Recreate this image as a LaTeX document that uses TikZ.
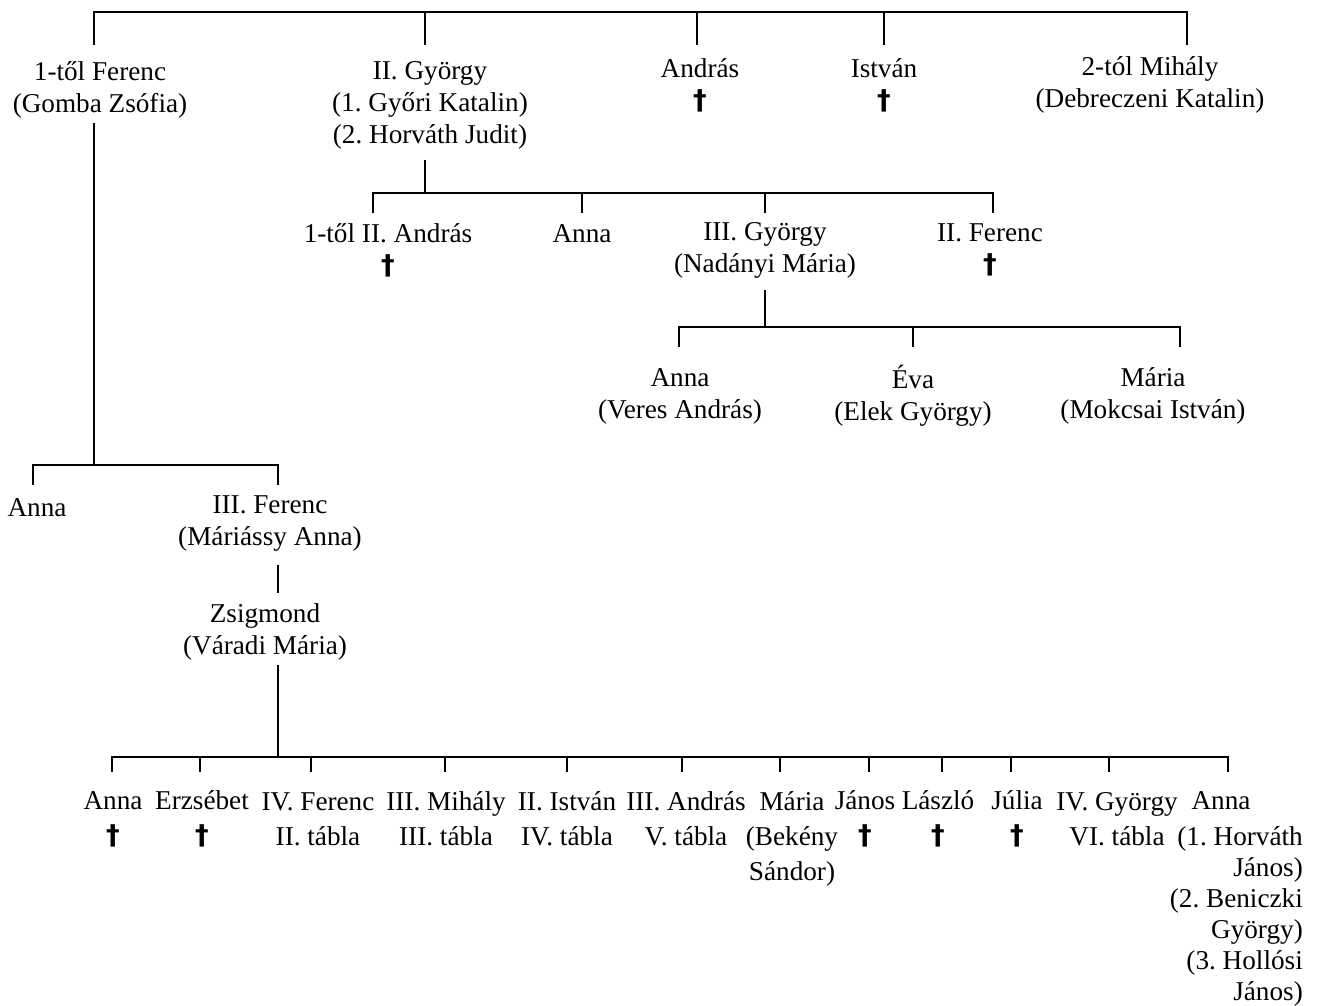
\documentclass[tikz,border=0pt]{standalone}
\usepackage{fontspec}
\setmainfont{Liberation Serif}
\newfontfamily\dagfont{DejaVu Sans Bold}
\newcommand{\dg}{{\dagfont †}}
\begin{document}
\frenchspacing
\begin{tikzpicture}[x=1pt,y=-1pt,
  every node/.style={inner sep=0pt, align=center, font=\fontsize{27.2}{32}\selectfont},
  botrow/.style={font=\fontsize{27.2}{35}\selectfont},
  spouses/.style={font=\fontsize{27.2}{31}\selectfont, anchor=north east, align=right},
  ln/.style={line width=1.8pt}]
\useasboundingbox (0,0) rectangle (1320,1005);

% ---- generation 1
\node (ferenc) at (100,90) {1-től Ferenc\\(Gomba Zsófia)};
\node (gyorgy) at (430,105) {II. György\\(1. Győri Katalin)\\(2. Horváth Judit)};
\node (andras) at (700,85) {András\\\dg};
\node (istvan) at (884,85) {István\\\dg};
\node (mihaly) at (1150,85) {2-tól Mihály\\(Debreczeni Katalin)};

% ---- children of II. György
\node (andras2) at (388,250) {1-től II. András\\\dg};
\node (anna1) at (582,234) {Anna};
\node (gyorgy3) at (765,250) {III. György\\(Nadányi Mária)};
\node (ferenc2) at (990,250) {II. Ferenc\\\dg};

% ---- children of III. György
\node (annaV) at (680,396) {Anna\\(Veres András)};
\node (eva) at (913,396) {Éva\\(Elek György)};
\node (mariaM) at (1153,396) {Mária\\(Mokcsai István)};

% ---- children of 1-től Ferenc
\node (annaA) at (37,508) {Anna};
\node (ferenc3) at (270,524) {III. Ferenc\\(Máriássy Anna)};
\node (zsig) at (265,632) {Zsigmond\\(Váradi Mária)};

% ---- children of Zsigmond
\node[botrow] (c1) at (113,819) {Anna\\\dg};
\node[botrow] (c2) at (202,819) {Erzsébet\\\dg};
\node[botrow] (c3) at (318,819) {IV. Ferenc\\II. tábla};
\node[botrow] (c4) at (446,819) {III. Mihály\\III. tábla};
\node[botrow] (c5) at (567,819) {II. István\\IV. tábla};
\node[botrow] (c6) at (686,819) {III. András\\V. tábla};
\node[botrow] (c7) at (792,839) {Mária\\(Bekény\\Sándor)};
\node[botrow] (c8) at (865,819) {János\\\dg};
\node[botrow] (c9) at (938,819) {László\\\dg};
\node[botrow] (c10) at (1017,819) {Júlia\\\dg};
\node[botrow] (c11) at (1117,819) {IV. György\\VI. tábla};
\node[botrow] (c12) at (1221,801) {Anna};
\node[spouses] (c12s) at (1303,826)
  {(1. Horváth\\János)\\(2. Beniczki\\György)\\(3. Hollósi\\János)};

% ---- connector coordinates
% top bar
\foreach \n/\x in {a/94,b/425,c/697,d/884,e/1187}{
  \coordinate (top\n) at (\x,12); \coordinate (top\n e) at (\x,45);}
\draw[ln] (topae) -- (topa) -- (tope) -- (topee);
\foreach \n in {b,c,d} \draw[ln] (top\n) -- (top\n e);

% II. György family
\coordinate (gyA) at (425,160); \coordinate (gyB) at (425,193);
\draw[ln] (gyA) -- (gyB);
\foreach \n/\x in {a/373,b/582,c/765,d/993}{
  \coordinate (gb\n) at (\x,193); \coordinate (gb\n e) at (\x,213);}
\draw[ln] (gbae) -- (gba) -- (gbd) -- (gbde);
\foreach \n in {b,c} \draw[ln] (gb\n) -- (gb\n e);

% III. György family
\coordinate (g3A) at (765,290); \coordinate (g3B) at (765,327);
\draw[ln] (g3A) -- (g3B);
\foreach \n/\x in {a/679,b/913,c/1180}{
  \coordinate (g3\n) at (\x,327); \coordinate (g3\n e) at (\x,347);}
\draw[ln] (g3ae) -- (g3a) -- (g3c) -- (g3ce);
\draw[ln] (g3b) -- (g3be);

% 1-től Ferenc family
\coordinate (fA) at (94,123); \coordinate (fB) at (94,465);
\draw[ln] (fA) -- (fB);
\coordinate (fbL) at (33,465); \coordinate (fbLe) at (33,485);
\coordinate (fbR) at (278,465); \coordinate (fbRe) at (278,485);
\draw[ln] (fbLe) -- (fbL) -- (fbR) -- (fbRe);

% III. Ferenc -> Zsigmond
\coordinate (zA) at (278,565); \coordinate (zB) at (278,593);
\draw[ln] (zA) -- (zB);

% Zsigmond family
\coordinate (sA) at (278,665); \coordinate (sB) at (278,757);
\draw[ln] (sA) -- (sB);
\foreach \n/\x in {1/112,2/200,3/311,4/445,5/567,6/682,7/780,8/869,9/942,10/1011,11/1109,12/1228}{
  \coordinate (sb\n) at (\x,757); \coordinate (sb\n e) at (\x,772);}
\draw[ln] (sb1e) -- (sb1) -- (sb12) -- (sb12e);
\foreach \n in {2,...,11} \draw[ln] (sb\n) -- (sb\n e);
\end{tikzpicture}
\end{document}
